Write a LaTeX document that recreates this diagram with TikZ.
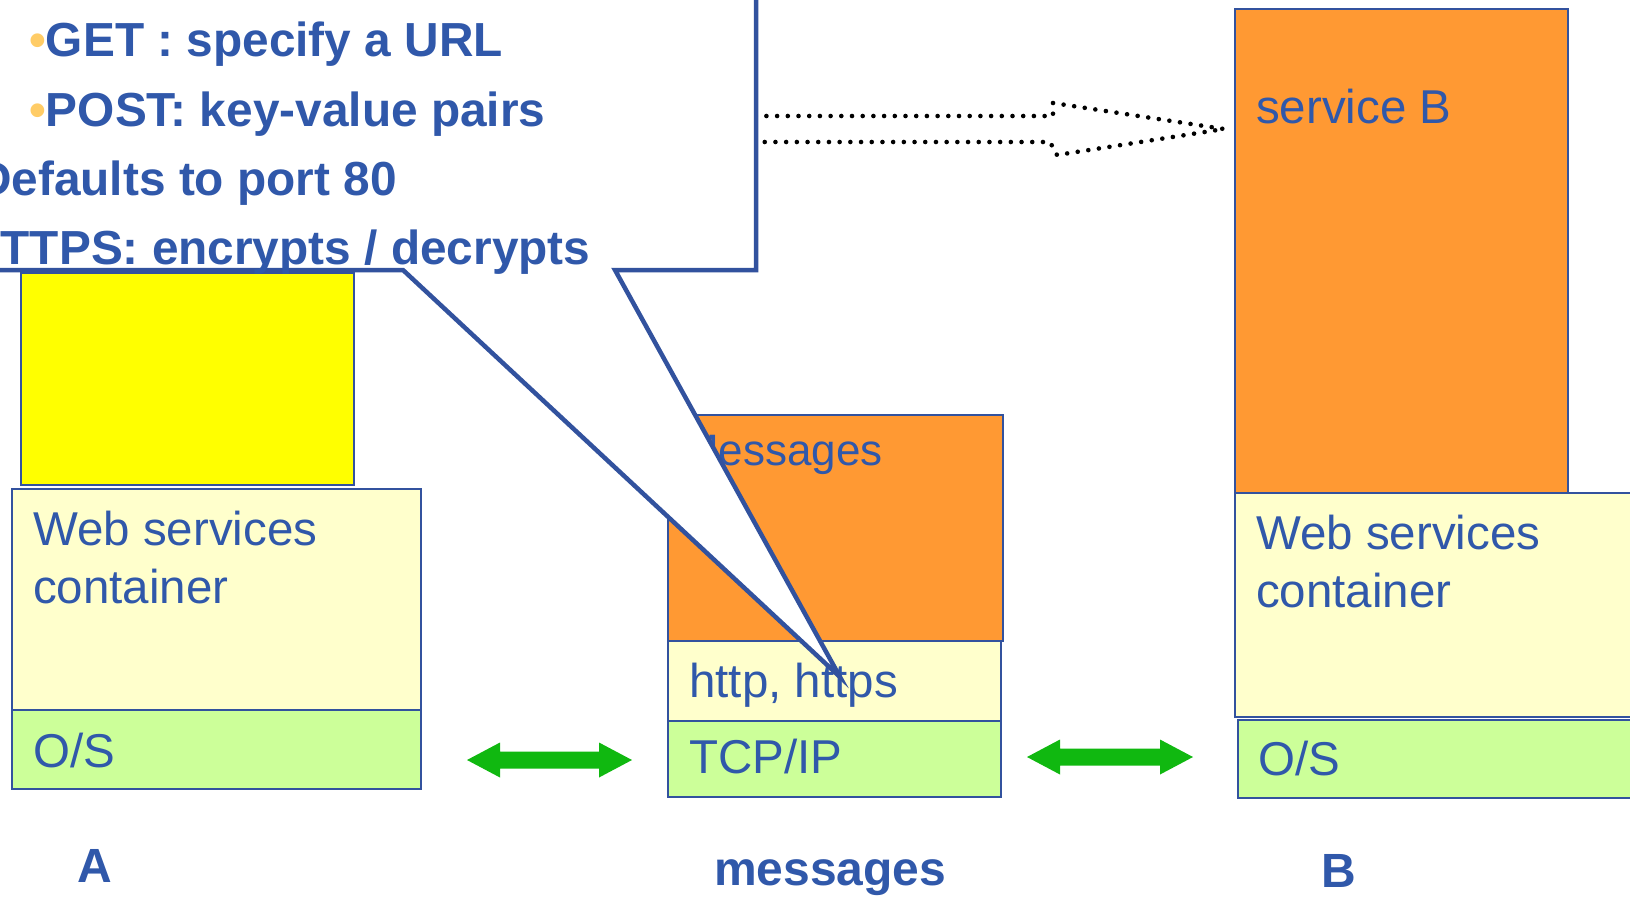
\documentclass[tikz,border=0pt]{standalone}
\usepackage{fontspec}
\setmainfont{Liberation Sans}
\usetikzlibrary{arrows.meta}
\definecolor{tblue}{RGB}{48,88,170}
\definecolor{lblue}{RGB}{50,82,158}
\definecolor{orng}{RGB}{255,153,51}
\definecolor{ltyel}{RGB}{255,255,204}
\definecolor{ltgrn}{RGB}{204,255,153}
\definecolor{yel}{RGB}{255,255,0}
\definecolor{grn}{RGB}{16,184,16}
\definecolor{bul}{RGB}{255,204,102}
\tikzset{
  box/.style={draw=lblue, line width=2pt, inner sep=0pt, anchor=north west},
  lbl/.style={text=tblue, inner sep=0pt, anchor=base west, font=\fontsize{47.5}{56}\selectfont},
  lblm/.style={lbl, font=\fontsize{44}{52}\selectfont},
  lblb/.style={lbl, font=\fontsize{48}{56}\selectfont\bfseries},
  callt/.style={lbl, font=\fontsize{47.8}{56}\selectfont\bfseries},
  garrow/.style={fill=grn},
  dotline/.style={draw=black, line width=4.6pt, line cap=round, dash pattern=on 0pt off 10.7pt},
  callout/.style={draw=lblue, fill=white, line width=4.5pt},
}
\begin{document}
\begin{tikzpicture}[x=1pt,y=-1pt]
\useasboundingbox (0,0) rectangle (1630,898);
\clip (0,0) rectangle (1630,898);
\fill[white] (0,0) rectangle (1630,898);

% ---- stack A ----
\node[box, fill=yel, minimum width=333pt, minimum height=212pt] (appA) at (20,272) {};
\node[box, fill=ltyel, minimum width=409pt, minimum height=221pt] (wsA) at (11,488) {};
\node[box, fill=ltgrn, minimum width=409pt, minimum height=79pt] (osA) at (11,709) {};
\node[lbl] (wsA1) at (33,545) {Web services};
\node[lbl] (wsA2) at (33,603) {container};
\node[lbl] (osAt) at (33,767) {O/S};

% ---- middle stack ----
\node[box, fill=orng, minimum width=335pt, minimum height=226pt] (msg) at (667,414) {};
\node[box, fill=ltyel, minimum width=333pt, minimum height=80pt] (http) at (667,640) {};
\node[box, fill=ltgrn, minimum width=333pt, minimum height=76pt] (tcp) at (667,720) {};
\node[lblm] (msgt) at (682,465) {Messages};
\node[lbl] (httpt) at (689,697) {http, https};
\node[lbl] (tcpt) at (689,773) {TCP/IP};

% ---- stack B ----
\node[box, fill=orng, minimum width=333pt, minimum height=484pt] (svcB) at (1234,8) {};
\node[box, fill=ltyel, minimum width=500pt, minimum height=224pt] (wsB) at (1234,492) {};
\node[box, fill=ltgrn, minimum width=500pt, minimum height=78pt] (osB) at (1237,719) {};
\node[lbl] (svcBt) at (1256,123) {service B};
\node[lbl] (wsB1) at (1256,549) {Web services};
\node[lbl] (wsB2) at (1256,607) {container};
\node[lbl] (osBt) at (1258,775) {O/S};

% ---- green double arrows ----
\coordinate (la1) at (467,760);
\coordinate (ra1) at (1027,757);
\fill[garrow] (la1) -- ++(33,-17.5) -- ++(0,9) -- ++(99,0) -- ++(0,-9) -- ++(33,17.5)
  -- ++(-33,17.5) -- ++(0,-9) -- ++(-99,0) -- ++(0,9) -- cycle;
\fill[garrow] (ra1) -- ++(33,-17.5) -- ++(0,9) -- ++(100,0) -- ++(0,-9) -- ++(33,17.5)
  -- ++(-33,17.5) -- ++(0,-9) -- ++(-100,0) -- ++(0,9) -- cycle;

% ---- dotted block arrow ----
\coordinate (dtip) at (1224,129);
\draw[dotline] (745,116) -- (1053,116) -- (1053,103) -- (dtip) -- (1057,155) -- (1050,142) -- (745,142);

% ---- callout ----
\coordinate (ctip) at (840,677);
\draw[callout] (-60,270) -- (403,270) -- (ctip) -- (615,270) -- (756,270) -- (756,-60) -- (-60,-60) -- cycle;
\node[callt] (c1) at (29,56) {{\color{bul}•}GET : specify a URL};
\node[callt] (c2) at (29,126) {{\color{bul}•}POST: key-value pairs};
\node[callt] (c3) at (-23,195) {Defaults to port 80};
\node[callt] (c4) at (-34,264) {HTTPS: encrypts / decrypts};

% ---- labels ----
\node[lblb] (labA) at (77,882) {A};
\node[lblb] (labM) at (714,885) {messages};
\node[lblb] (labB) at (1321,887) {B};
\end{tikzpicture}
\end{document}
